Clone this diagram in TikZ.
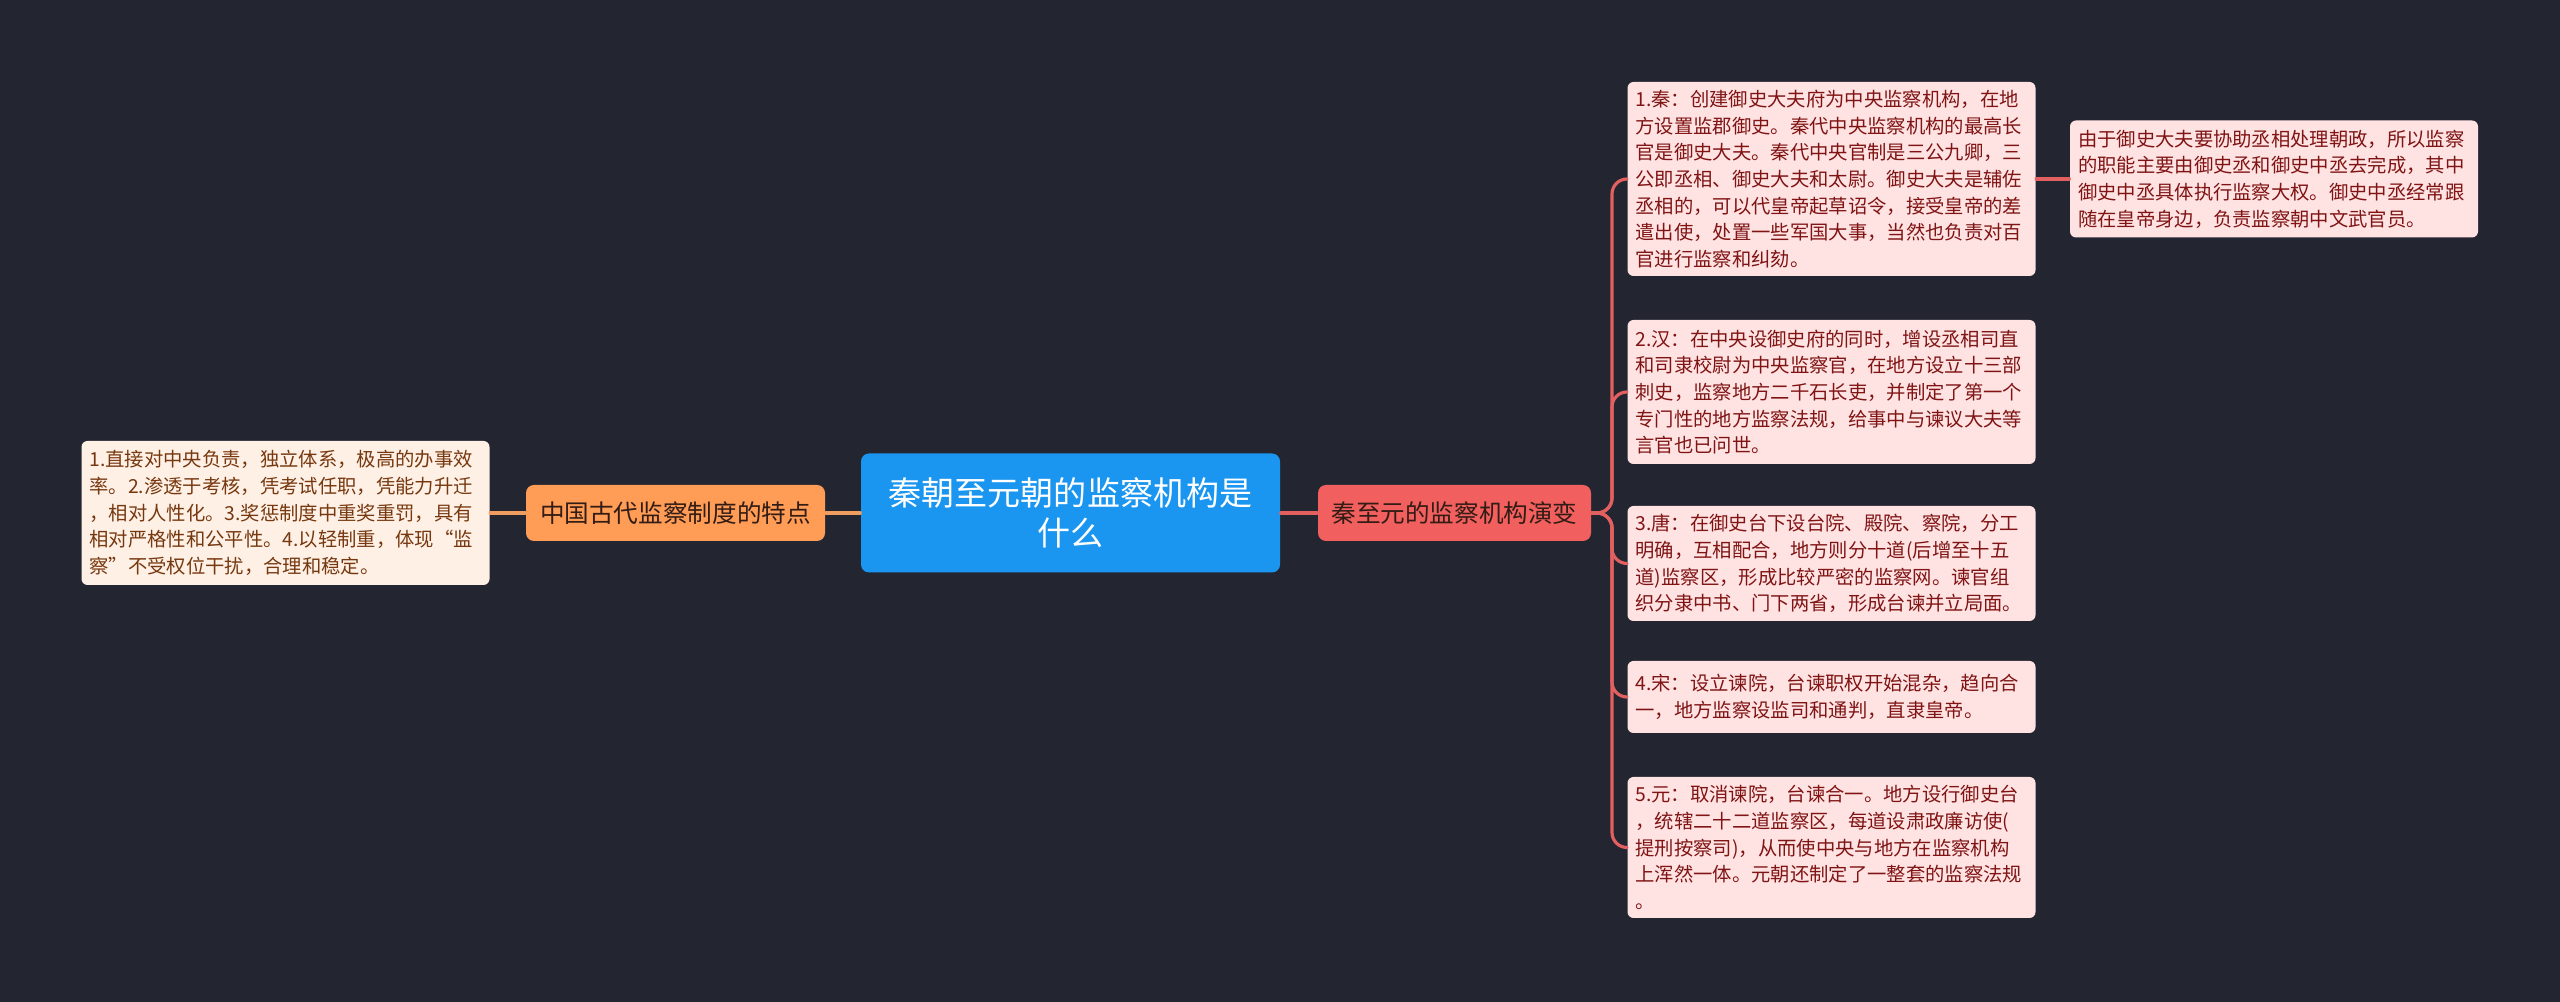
\documentclass[tikz,border=0pt]{standalone}
\usepackage{fontspec}
\setmainfont{Noto Sans CJK SC}
\definecolor{bgdark}{RGB}{35,38,49}
\definecolor{rootblue}{RGB}{27,150,240}
\definecolor{topicorange}{RGB}{255,156,86}
\definecolor{topicred}{RGB}{242,95,95}
\definecolor{topicink}{RGB}{50,28,20}
\definecolor{leafpink}{RGB}{255,227,227}
\definecolor{leafpeach}{RGB}{255,240,230}
\definecolor{inkred}{RGB}{128,20,20}
\definecolor{inkbrown}{RGB}{118,56,14}
\definecolor{linkred}{RGB}{226,96,96}
\definecolor{linkorange}{RGB}{240,158,96}
\tikzset{
  rootbox/.style={fill=rootblue, rounded corners=0.08cm, text=white, align=center, font=\fontsize{9.4}{11.6}\selectfont, minimum width=4.19cm, minimum height=1.19cm, inner sep=0},
  topicbox/.style={rounded corners=0.08cm, text=topicink, font=\fontsize{7}{8.4}\selectfont, minimum height=0.56cm, inner sep=0},
  leafbox/.style={rounded corners=0.06cm, align=left, text width=3.92cm, inner xsep=0.08cm, inner ysep=0.05cm, font=\fontsize{5.5}{7.57}\selectfont},
  pinkleaf/.style={leafbox, fill=leafpink, text=inkred},
  peachleaf/.style={leafbox, fill=leafpeach, text=inkbrown},
  redlink/.style={line width=0.9pt, draw=linkred, line cap=round, line join=round},
  orangelink/.style={line width=0.9pt, draw=linkorange, line cap=round},
}

\begin{document}
\begin{tikzpicture}
\useasboundingbox (0,0) rectangle (25.6,10.02);
\fill[bgdark] (0,0) rectangle (25.6,10.02);
\node[rootbox] (root) at (10.705,4.89) {秦朝至元朝的监察机构是\\什么};
\node[topicbox, fill=topicorange, minimum width=2.99cm] (traits) at (6.755,4.89) {中国古代监察制度的特点};
\node[topicbox, fill=topicred, minimum width=2.73cm] (evolve) at (14.545,4.89) {秦至元的监察机构演变};
\node[peachleaf, minimum height=1.44cm] (traitsnote) at (2.855,4.89) {1.直接对中央负责，独立体系，极高的办事效\\率。2.渗透于考核，凭考试任职，凭能力升迁\\，相对人性化。3.奖惩制度中重奖重罚，具有\\相对严格性和公平性。4.以轻制重，体现“监\\察”不受权位干扰，合理和稳定。};
\node[pinkleaf, minimum height=1.94cm] (qin) at (18.315,8.23) {1.秦：创建御史大夫府为中央监察机构，在地\\方设置监郡御史。秦代中央监察机构的最高长\\官是御史大夫。秦代中央官制是三公九卿，三\\公即丞相、御史大夫和太尉。御史大夫是辅佐\\丞相的，可以代皇帝起草诏令，接受皇帝的差\\遣出使，处置一些军国大事，当然也负责对百\\官进行监察和纠劾。};
\node[pinkleaf, minimum height=1.17cm] (qinnote) at (22.74,8.23) {由于御史大夫要协助丞相处理朝政，所以监察\\的职能主要由御史丞和御史中丞去完成，其中\\御史中丞具体执行监察大权。御史中丞经常跟\\随在皇帝身边，负责监察朝中文武官员。};
\node[pinkleaf, minimum height=1.44cm] (han) at (18.315,6.10) {2.汉：在中央设御史府的同时，增设丞相司直\\和司隶校尉为中央监察官，在地方设立十三部\\刺史，监察地方二千石长吏，并制定了第一个\\专门性的地方监察法规，给事中与谏议大夫等\\言官也已问世。};
\node[pinkleaf, minimum height=1.15cm] (tang) at (18.315,4.385) {3.唐：在御史台下设台院、殿院、察院，分工\\明确，互相配合，地方则分十道(后增至十五\\道)监察区，形成比较严密的监察网。谏官组\\织分隶中书、门下两省，形成台谏并立局面。};
\node[pinkleaf, minimum height=0.72cm] (song) at (18.315,3.05) {4.宋：设立谏院，台谏职权开始混杂，趋向合\\一，地方监察设监司和通判，直隶皇帝。};
\node[pinkleaf, minimum height=1.41cm] (yuan) at (18.315,1.545) {5.元：取消谏院，台谏合一。地方设行御史台\\，统辖二十二道监察区，每道设肃政廉访使(\\提刑按察司)，从而使中央与地方在监察机构\\上浑然一体。元朝还制定了一整套的监察法规\\。};
\coordinate (trunk) at (16.12,4.89);
% left side
\draw[orangelink] (root) -- (traits);
\draw[orangelink] (traits) -- (traitsnote);
% right side
\draw[redlink] (root) -- (evolve);
\foreach \era in {qin,han,tang,song,yuan}
  \draw[redlink, rounded corners=0.15cm] (evolve.east) -- (trunk) |- (\era.west);
\draw[redlink] (qin) -- (qinnote);
\end{tikzpicture}
\end{document}
